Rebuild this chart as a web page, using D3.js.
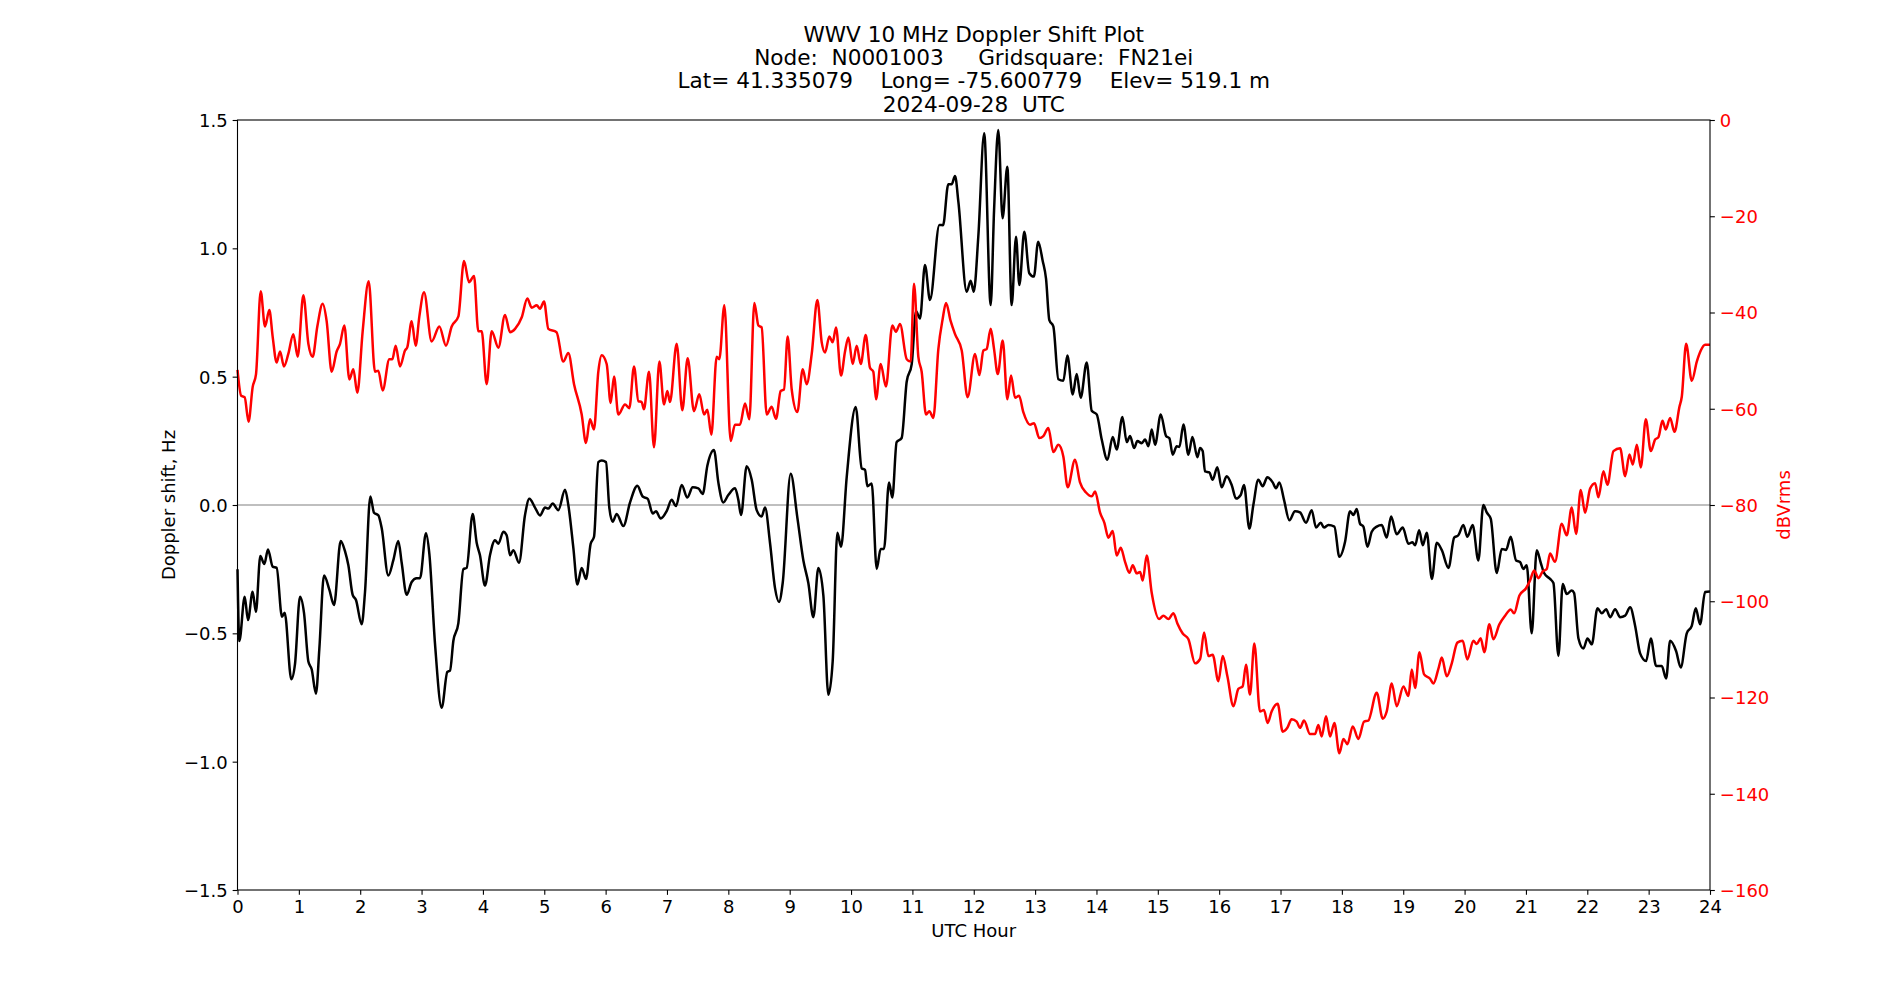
<!DOCTYPE html>
<html>
<head>
<meta charset="utf-8">
<script src="https://cdn.jsdelivr.net/npm/d3@7"></script>
<style>
  body { margin: 0; background: #fff; }
  svg text { font-family: "DejaVu Sans", sans-serif; white-space: pre; }
</style>
</head>
<body>
<svg id="svg" width="1900" height="1000"></svg>
<script>
// title lines
var titleLines = [
  "WWV 10 MHz Doppler Shift Plot",
  "Node:  N0001003     Gridsquare:  FN21ei",
  "Lat= 41.335079    Long= -75.600779    Elev= 519.1 m",
  "2024-09-28  UTC"
];

// doppler shift (Hz)
var dopplerHour = [0.0,0.03,0.117,0.171,0.247,0.30,0.372,0.437,0.497,0.573,0.638,0.725,0.769,0.877,0.937,1.019,1.084,1.155,1.209,1.279,1.334,1.41,1.497,1.573,1.682,1.752,1.807,1.877,1.931,2.024,2.078,2.165,2.225,2.295,2.35,2.458,2.54,2.621,2.676,2.757,2.839,2.92,2.975,3.072,3.127,3.219,3.328,3.42,3.464,3.518,3.6,3.681,3.735,3.833,3.898,3.952,4.034,4.115,4.197,4.251,4.333,4.387,4.442,4.496,4.588,4.686,4.757,4.849,4.931,5.012,5.066,5.137,5.229,5.338,5.392,5.474,5.539,5.61,5.68,5.756,5.811,5.881,5.936,6.006,6.06,6.115,6.18,6.289,6.398,6.517,6.604,6.686,6.767,6.821,6.897,6.995,7.076,7.147,7.24,7.332,7.419,7.511,7.582,7.658,7.766,7.837,7.918,8.0,8.109,8.163,8.207,8.299,8.381,8.462,8.543,8.598,8.679,8.761,8.826,8.886,9.016,9.125,9.223,9.304,9.386,9.467,9.549,9.63,9.701,9.777,9.837,9.929,10.076,10.174,10.228,10.266,10.337,10.418,10.483,10.537,10.619,10.673,10.743,10.825,10.907,10.989,11.059,11.124,11.205,11.287,11.44,11.5,11.585,11.64,11.695,11.75,11.885,11.95,12.0,12.075,12.17,12.276,12.331,12.40,12.47,12.547,12.618,12.689,12.743,12.824,12.905,12.98,13.05,13.124,13.178,13.232,13.297,13.379,13.46,13.526,13.613,13.678,13.743,13.841,13.923,14.004,14.086,14.178,14.265,14.33,14.423,14.494,14.548,14.613,14.667,14.738,14.792,14.847,14.901,14.955,15.048,15.134,15.189,15.243,15.309,15.352,15.417,15.499,15.564,15.646,15.688,15.731,15.769,15.84,15.894,15.97,16.04,16.122,16.204,16.275,16.351,16.405,16.492,16.557,16.638,16.709,16.785,16.872,16.926,16.981,17.057,17.144,17.236,17.318,17.416,17.508,17.579,17.655,17.709,17.78,17.878,17.959,18.052,18.133,18.188,18.242,18.296,18.351,18.416,18.487,18.568,18.65,18.731,18.802,18.894,18.992,19.085,19.15,19.194,19.259,19.319,19.384,19.466,19.547,19.629,19.738,19.83,19.898,19.98,20.045,20.132,20.224,20.306,20.361,20.426,20.524,20.606,20.676,20.752,20.839,20.904,20.958,21.013,21.094,21.176,21.241,21.296,21.393,21.448,21.529,21.6,21.665,21.747,21.785,21.856,21.937,22.003,22.073,22.166,22.236,22.307,22.372,22.454,22.535,22.617,22.698,22.78,22.861,22.959,23.035,23.122,23.214,23.285,23.35,23.447,23.523,23.621,23.703,23.768,23.838,23.92,24.0];
var dopplerHz = [-0.25,-0.53,-0.357,-0.448,-0.338,-0.416,-0.199,-0.23,-0.173,-0.24,-0.245,-0.435,-0.42,-0.679,-0.62,-0.357,-0.42,-0.61,-0.64,-0.735,-0.56,-0.275,-0.33,-0.39,-0.14,-0.18,-0.235,-0.35,-0.37,-0.465,-0.34,0.033,-0.03,-0.04,-0.09,-0.275,-0.215,-0.14,-0.225,-0.35,-0.30,-0.285,-0.285,-0.11,-0.19,-0.54,-0.79,-0.65,-0.645,-0.53,-0.46,-0.25,-0.245,-0.035,-0.147,-0.196,-0.314,-0.196,-0.137,-0.151,-0.104,-0.118,-0.196,-0.176,-0.225,-0.039,0.024,-0.01,-0.041,-0.01,-0.014,0.006,-0.02,0.059,0.0,-0.167,-0.31,-0.245,-0.288,-0.151,-0.124,0.167,0.173,0.167,-0.01,-0.065,-0.035,-0.082,0.01,0.075,0.033,0.024,-0.033,-0.024,-0.053,-0.024,0.02,-0.004,0.078,0.029,0.069,0.065,0.043,0.153,0.214,0.088,0.01,0.039,0.065,0.02,-0.039,0.151,0.098,-0.02,-0.045,-0.01,-0.147,-0.324,-0.378,-0.304,0.122,-0.049,-0.216,-0.304,-0.437,-0.245,-0.353,-0.739,-0.608,-0.108,-0.163,0.108,0.382,0.143,0.137,0.073,0.084,-0.249,-0.171,-0.171,0.088,0.029,0.245,0.261,0.48,0.549,0.755,0.727,0.935,0.799,1.091,1.09,1.25,1.25,1.282,1.18,0.831,0.874,0.831,1.049,1.448,0.779,1.147,1.461,1.117,1.318,0.779,1.045,0.857,1.065,0.903,0.89,1.026,0.951,0.882,0.72,0.696,0.49,0.484,0.582,0.431,0.51,0.418,0.555,0.367,0.353,0.255,0.176,0.265,0.216,0.343,0.245,0.269,0.222,0.249,0.241,0.255,0.229,0.294,0.235,0.353,0.269,0.26,0.196,0.229,0.226,0.314,0.196,0.265,0.186,0.222,0.21,0.131,0.127,0.098,0.147,0.069,0.112,0.078,0.025,0.039,0.078,-0.092,0.0,0.098,0.073,0.108,0.088,0.065,0.088,0.02,-0.059,-0.024,-0.029,-0.069,-0.02,-0.088,-0.069,-0.088,-0.078,-0.084,-0.202,-0.143,-0.024,-0.039,-0.016,-0.073,-0.084,-0.163,-0.104,-0.084,-0.078,-0.127,-0.045,-0.114,-0.088,-0.151,-0.145,-0.157,-0.098,-0.157,-0.108,-0.288,-0.147,-0.176,-0.245,-0.127,-0.118,-0.078,-0.124,-0.078,-0.216,0.0,-0.029,-0.053,-0.265,-0.171,-0.175,-0.124,-0.216,-0.222,-0.249,-0.235,-0.5,-0.176,-0.225,-0.265,-0.288,-0.304,-0.588,-0.308,-0.347,-0.333,-0.343,-0.52,-0.559,-0.52,-0.543,-0.402,-0.422,-0.406,-0.437,-0.406,-0.437,-0.431,-0.398,-0.471,-0.578,-0.608,-0.52,-0.627,-0.627,-0.676,-0.529,-0.569,-0.633,-0.5,-0.471,-0.402,-0.465,-0.339,-0.337];

// received level (dBVrms)
var powerHour = [0.0,0.06,0.117,0.18,0.247,0.302,0.378,0.448,0.519,0.573,0.638,0.693,0.758,0.828,0.91,0.981,1.073,1.155,1.225,1.301,1.388,1.453,1.535,1.616,1.671,1.741,1.823,1.888,1.953,2.04,2.138,2.241,2.295,2.366,2.475,2.524,2.578,2.649,2.73,2.768,2.839,2.904,2.964,3.04,3.165,3.29,3.398,3.491,3.6,3.692,3.773,3.855,3.925,3.98,4.061,4.143,4.252,4.36,4.442,4.524,4.633,4.724,4.795,4.877,4.931,4.996,5.066,5.2,5.31,5.392,5.485,5.61,5.68,5.745,5.81,5.881,5.936,6.017,6.082,6.137,6.207,6.316,6.386,6.463,6.533,6.587,6.625,6.707,6.788,6.876,6.951,7.006,7.049,7.158,7.25,7.337,7.44,7.527,7.604,7.658,7.723,7.81,7.853,7.935,8.038,8.109,8.19,8.272,8.342,8.424,8.49,8.543,8.625,8.706,8.777,8.853,8.907,8.967,9.033,9.125,9.212,9.277,9.359,9.451,9.522,9.576,9.647,9.701,9.755,9.837,9.902,9.957,10.027,10.092,10.158,10.239,10.309,10.363,10.407,10.483,10.569,10.673,10.732,10.798,10.907,10.972,11.026,11.097,11.151,11.222,11.276,11.341,11.423,11.494,11.548,11.624,11.695,11.804,11.9,12.021,12.092,12.157,12.21,12.276,12.331,12.391,12.472,12.548,12.608,12.673,12.738,12.808,12.917,12.982,13.069,13.134,13.216,13.297,13.379,13.46,13.531,13.651,13.732,13.83,13.923,13.978,14.059,14.129,14.195,14.265,14.33,14.396,14.466,14.537,14.591,14.656,14.711,14.754,14.819,14.901,15.021,15.091,15.173,15.254,15.319,15.406,15.499,15.607,15.689,15.754,15.825,15.894,15.987,16.058,16.134,16.232,16.313,16.383,16.437,16.502,16.573,16.665,16.73,16.79,16.855,16.953,17.035,17.111,17.182,17.263,17.318,17.383,17.481,17.562,17.617,17.671,17.742,17.807,17.878,17.959,18.025,18.09,18.177,18.269,18.362,18.43,18.568,18.666,18.731,18.813,18.894,19.003,19.085,19.139,19.194,19.264,19.34,19.438,19.492,19.574,19.629,19.71,19.791,19.882,19.969,20.045,20.143,20.197,20.262,20.322,20.404,20.469,20.567,20.66,20.752,20.807,20.894,21.002,21.067,21.133,21.203,21.274,21.339,21.393,21.474,21.583,21.665,21.747,21.817,21.893,21.964,22.046,22.127,22.181,22.263,22.328,22.426,22.535,22.617,22.687,22.742,22.807,22.872,22.954,23.035,23.106,23.16,23.225,23.279,23.35,23.421,23.502,23.54,23.611,23.703,23.785,23.85,23.92,24.0];
var powerDb = [-51.9,-57.3,-57.6,-62.7,-55.5,-52.8,-35.6,-42.9,-39.5,-45,-50.4,-48.1,-51.2,-48.6,-44.5,-49.2,-36.4,-46.5,-49.2,-42.9,-38.2,-41.8,-52.3,-48.1,-46.5,-42.7,-53.9,-51.8,-56.7,-43.9,-33.5,-52.3,-52.1,-56.2,-49.7,-49.7,-46.9,-51.2,-47.9,-47.2,-41.8,-46.9,-40.8,-35.8,-46,-42.9,-46.9,-42.9,-40.8,-29.3,-33.7,-32.4,-43.9,-43.9,-54.9,-43.9,-47.3,-40.5,-44.1,-43.4,-41,-37.1,-39,-38.5,-39.2,-37.7,-43.4,-44.1,-50.2,-48.4,-54.9,-61.2,-67.1,-62.2,-64.3,-52.3,-48.9,-50.7,-58.8,-53.3,-61.2,-59.1,-59.9,-51.2,-58.4,-58.6,-60.1,-52.3,-68,-50.2,-59.1,-56.3,-58.6,-46.5,-60.3,-49.5,-60.5,-57,-61.2,-60.2,-65.4,-49.2,-49.7,-38.5,-66.7,-63.3,-63.3,-58.9,-62.2,-38,-42.7,-43.1,-61.2,-59.6,-62.1,-56.3,-56,-45,-56,-60.7,-51.8,-54.9,-48.6,-37.4,-46.2,-48.3,-45,-46.2,-43.1,-53.1,-48.1,-45.2,-50.7,-46.9,-50.7,-44.7,-51.5,-52.3,-58.05,-50.7,-55.4,-42.7,-44,-42.4,-49.7,-50.2,-34,-49.2,-52.3,-61.2,-60.5,-61.9,-47.6,-41.3,-38,-41.8,-44.5,-47.9,-57.6,-48.6,-53.0,-47.9,-47.6,-43.4,-47.6,-52.8,-45.8,-58.05,-53.1,-57.7,-57.3,-60.7,-63.3,-63,-66.1,-65.7,-64,-69,-67.5,-69.9,-76.3,-70.6,-75.3,-77.4,-78.2,-77.2,-81.6,-83.7,-86.8,-85.4,-90.5,-88.9,-91.8,-94.1,-92.5,-94.2,-93.9,-95.7,-90.5,-98.3,-103.7,-103.0,-103.7,-102.5,-104.6,-106.7,-107.9,-112.9,-112.0,-106.5,-111.4,-111.1,-116.6,-111.4,-115.6,-121.8,-118.2,-117.7,-113.2,-119.4,-108.8,-122.9,-122.6,-125.3,-122.9,-121.3,-127.1,-126.3,-124.5,-125,-126.3,-124.8,-127.6,-127.6,-125.7,-128.1,-123.9,-128.1,-125.3,-131.6,-128.6,-129.7,-126.0,-128.6,-125.0,-124.8,-119.0,-124.4,-122.9,-117.1,-121.8,-117.7,-119.7,-114.2,-118,-110.6,-115.2,-116.1,-117.1,-114,-111.7,-115.6,-112.9,-108.6,-108.2,-112.1,-108.2,-108.9,-107.7,-110.6,-104.8,-107.9,-104.8,-103.0,-101.7,-102.5,-98.8,-97.3,-95.7,-93.6,-95.2,-93.8,-93.3,-90.1,-91.8,-83.9,-86.3,-80.5,-86.0,-76.9,-81.6,-76.6,-75.5,-78.4,-73.0,-75.8,-68.8,-68.2,-74.0,-69.5,-71.6,-67.5,-72.2,-62.2,-68.8,-66.4,-65.9,-62.5,-64.3,-61.9,-64.8,-59.6,-57.5,-46.5,-54.2,-50.2,-47.9,-46.7,-46.7];

var hourTicks = d3.range(0, 25, 1);
var dopplerTicks = [-1.5, -1.0, -0.5, 0.0, 0.5, 1.0, 1.5];
var powerTicks = [0, -20, -40, -60, -80, -100, -120, -140, -160];

(function () {
  var svg = d3.select("#svg");
  var plotLeft = 237.5, plotRight = 1710, plotTop = 120, plotBottom = 890;
  var tickLen = 4.86;

  var x = d3.scaleLinear().domain([0, 24]).range([plotLeft, plotRight]);
  var yHz = d3.scaleLinear().domain([-1.5, 1.5]).range([plotBottom, plotTop]);
  var yDb = d3.scaleLinear().domain([-160, 0]).range([plotBottom, plotTop]);

  // zero line
  svg.append("line")
    .attr("x1", plotLeft).attr("x2", plotRight)
    .attr("y1", yHz(0)).attr("y2", yHz(0))
    .attr("stroke", "#808080").attr("stroke-width", 1.1);

  var dopplerLine = d3.line()
    .x((d, i) => x(dopplerHour[i]))
    .y((d) => yHz(d))
    .curve(d3.curveMonotoneX);

  var powerLine = d3.line()
    .x((d, i) => x(powerHour[i]))
    .y((d) => yDb(d))
    .curve(d3.curveMonotoneX);

  svg.append("path")
    .attr("d", dopplerLine(dopplerHz))
    .attr("fill", "none").attr("stroke", "#000").attr("stroke-width", 2.5)
    .attr("stroke-linejoin", "round");

  svg.append("path")
    .attr("d", powerLine(powerDb))
    .attr("fill", "none").attr("stroke", "#ff0000").attr("stroke-width", 2.5)
    .attr("stroke-linejoin", "round");

  // frame
  svg.append("rect")
    .attr("x", plotLeft).attr("y", plotTop)
    .attr("width", plotRight - plotLeft).attr("height", plotBottom - plotTop)
    .attr("fill", "none").attr("stroke", "#000").attr("stroke-width", 1.1);

  var xAxis = svg.append("g")
    .attr("transform", "translate(0," + plotBottom + ")")
    .call(d3.axisBottom(x).tickValues(hourTicks).tickSize(tickLen).tickPadding(5.5).tickFormat(d3.format("d")));

  var yAxisL = svg.append("g")
    .attr("transform", "translate(" + plotLeft + ",0)")
    .call(d3.axisLeft(yHz).tickValues(dopplerTicks).tickSize(tickLen).tickPadding(5).tickFormat(d3.format(".1f")));

  var yAxisR = svg.append("g")
    .attr("transform", "translate(" + plotRight + ",0)")
    .call(d3.axisRight(yDb).tickValues(powerTicks).tickSize(tickLen).tickPadding(5).tickFormat(d3.format("d")));

  [xAxis, yAxisL, yAxisR].forEach((g) => {
    g.select(".domain").remove();
    g.selectAll(".tick line").attr("stroke", "#000").attr("stroke-width", 1.1);
    g.selectAll(".tick text")
      .attr("fill", "#000")
      .style("font-family", "DejaVu Sans")
      .style("font-size", "18px");
  });
  yAxisL.selectAll(".tick text").attr("dy", "0.36em");
  yAxisR.selectAll(".tick text").attr("dy", "0.36em").attr("fill", "#ff0000");

  // title
  var title = svg.append("text")
    .attr("text-anchor", "middle")
    .style("font-size", "21.6px")
    .attr("fill", "#000");
  titleLines.forEach((t, i) => {
    title.append("tspan")
      .attr("x", (plotLeft + plotRight) / 2)
      .attr("y", 42 + i * 23.2)
      .text(t);
  });

  // axis labels
  svg.append("text")
    .attr("x", (plotLeft + plotRight) / 2).attr("y", 937)
    .attr("text-anchor", "middle")
    .style("font-size", "18px")
    .text("UTC Hour");

  svg.append("text")
    .attr("transform", "translate(175," + (plotTop + plotBottom) / 2 + ") rotate(-90)")
    .attr("text-anchor", "middle")
    .style("font-size", "18px")
    .text("Doppler shift, Hz");

  svg.append("text")
    .attr("transform", "translate(1790," + (plotTop + plotBottom) / 2 + ") rotate(-90)")
    .attr("text-anchor", "middle")
    .attr("fill", "#ff0000")
    .style("font-size", "18px")
    .text("dBVrms");
})();
</script>
</body>
</html>
